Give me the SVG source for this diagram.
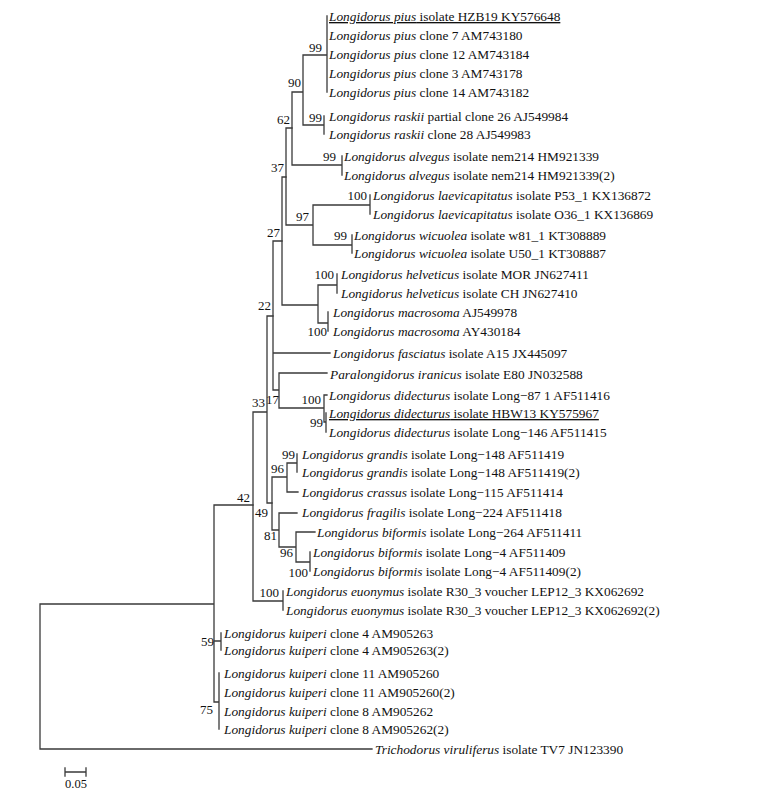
<svg xmlns="http://www.w3.org/2000/svg" width="763" height="792" viewBox="0 0 763 792">
<style>
.br{fill:none;stroke:#3a3a3a;stroke-width:1.3;stroke-linecap:square}
.lf{font-family:"Liberation Serif","Times New Roman",serif;font-size:13.35px;fill:#111}
.sp{font-style:italic}
.sl{font-family:"Liberation Serif","Times New Roman",serif;font-size:13px;fill:#111;text-anchor:end}
.ul{text-decoration:underline}
</style>
<rect width="763" height="792" fill="#fff"/>
<g id="connectors">
<path class="br" d="M40,604V749M40,749H372M40,604H214M214,505V702M214,505H253M214,641H221M221,633V650M214,702H219M219,673V729"/>
<path class="br" d="M253,412V601M253,601H283M283,591V610M253,412H267M267,316V503M267,316H273M267,503H272"/>
<path class="br" d="M273,241V390M273,241H282M273,353H330M273,390H279M279,373V408M279,373H327M279,408H324M324,395V422M324,395H327M324,422H326M326,413V432"/>
<path class="br" d="M282,177V305M282,177H286M282,305H318M318,285V323M318,285H337M337,274V293M318,323H328M328,312V331"/>
<path class="br" d="M286,128V225M286,128H292M286,225H313M313,205V245M313,205H370M370,195V214M313,245H352M352,235V253"/>
<path class="br" d="M292,92V165M292,92H303M292,165H342M342,156V175M303,55V125M303,55H327M327,16V92M303,125H324M324,116V134"/>
<path class="br" d="M272,477V530M272,477H287M287,463V492M287,463H297M297,454V472M287,492H298M272,530H279M279,513V547M279,513H297M279,547H296M296,532V562M296,532H315M296,562H310M310,552V571"/>
</g>
<g id="leaves" class="lf">
<g id="n1"><text x="329" y="21" class="ul"><tspan class="sp">Longidorus pius</tspan> isolate HZB19 KY576648</text></g>
<g id="n2"><text x="329" y="40"><tspan class="sp">Longidorus pius</tspan> clone 7 AM743180</text></g>
<g id="n3"><text x="329" y="59"><tspan class="sp">Longidorus pius</tspan> clone 12 AM743184</text></g>
<g id="n4"><text x="329" y="78"><tspan class="sp">Longidorus pius</tspan> clone 3 AM743178</text></g>
<g id="n5"><text x="329" y="97"><tspan class="sp">Longidorus pius</tspan> clone 14 AM743182</text></g>
<g id="n6"><text x="329" y="121"><tspan class="sp">Longidorus raskii</tspan> partial clone 26 AJ549984</text></g>
<g id="n7"><text x="329" y="139"><tspan class="sp">Longidorus raskii</tspan> clone 28 AJ549983</text></g>
<g id="n8"><text x="344" y="161"><tspan class="sp">Longidorus alvegus</tspan> isolate nem214 HM921339</text></g>
<g id="n9"><text x="344" y="180"><tspan class="sp">Longidorus alvegus</tspan> isolate nem214 HM921339(2)</text></g>
<g id="n10"><text x="373" y="200"><tspan class="sp">Longidorus laevicapitatus</tspan> isolate P53_1 KX136872</text></g>
<g id="n11"><text x="373" y="219"><tspan class="sp">Longidorus laevicapitatus</tspan> isolate O36_1 KX136869</text></g>
<g id="n12"><text x="354" y="240"><tspan class="sp">Longidorus wicuolea</tspan> isolate w81_1 KT308889</text></g>
<g id="n13"><text x="354" y="258"><tspan class="sp">Longidorus wicuolea</tspan> isolate U50_1 KT308887</text></g>
<g id="n14"><text x="341" y="279"><tspan class="sp">Longidorus helveticus</tspan> isolate MOR JN627411</text></g>
<g id="n15"><text x="341" y="298"><tspan class="sp">Longidorus helveticus</tspan> isolate CH JN627410</text></g>
<g id="n16"><text x="333" y="317"><tspan class="sp">Longidorus macrosoma</tspan> AJ549978</text></g>
<g id="n17"><text x="333" y="336"><tspan class="sp">Longidorus macrosoma</tspan> AY430184</text></g>
<g id="n18"><text x="333" y="358"><tspan class="sp">Longidorus fasciatus</tspan> isolate A15 JX445097</text></g>
<g id="n19"><text x="330" y="379"><tspan class="sp">Paralongidorus iranicus</tspan> isolate E80 JN032588</text></g>
<g id="n20"><text x="329" y="400"><tspan class="sp">Longidorus didecturus</tspan> isolate Long−87 1 AF511416</text></g>
<g id="n21"><text x="329" y="418" class="ul"><tspan class="sp">Longidorus didecturus</tspan> isolate HBW13 KY575967</text></g>
<g id="n22"><text x="329" y="437"><tspan class="sp">Longidorus didecturus</tspan> isolate Long−146 AF511415</text></g>
<g id="n23"><text x="302" y="459"><tspan class="sp">Longidorus grandis</tspan> isolate Long−148 AF511419</text></g>
<g id="n24"><text x="302" y="477"><tspan class="sp">Longidorus grandis</tspan> isolate Long−148 AF511419(2)</text></g>
<g id="n25"><text x="302" y="497"><tspan class="sp">Longidorus crassus</tspan> isolate Long−115 AF511414</text></g>
<g id="n26"><text x="302" y="517"><tspan class="sp">Longidorus fragilis</tspan> isolate Long−224 AF511418</text></g>
<g id="n27"><text x="317" y="537"><tspan class="sp">Longidorus biformis</tspan> isolate Long−264 AF511411</text></g>
<g id="n28"><text x="313" y="557"><tspan class="sp">Longidorus biformis</tspan> isolate Long−4 AF511409</text></g>
<g id="n29"><text x="313" y="576"><tspan class="sp">Longidorus biformis</tspan> isolate Long−4 AF511409(2)</text></g>
<g id="n30"><text x="286" y="596"><tspan class="sp">Longidorus euonymus</tspan> isolate R30_3 voucher LEP12_3 KX062692</text></g>
<g id="n31"><text x="286" y="615"><tspan class="sp">Longidorus euonymus</tspan> isolate R30_3 voucher LEP12_3 KX062692(2)</text></g>
<g id="n32"><text x="224" y="638"><tspan class="sp">Longidorus kuiperi</tspan> clone 4 AM905263</text></g>
<g id="n33"><text x="224" y="655"><tspan class="sp">Longidorus kuiperi</tspan> clone 4 AM905263(2)</text></g>
<g id="n34"><text x="224" y="678"><tspan class="sp">Longidorus kuiperi</tspan> clone 11 AM905260</text></g>
<g id="n35"><text x="224" y="697"><tspan class="sp">Longidorus kuiperi</tspan> clone 11 AM905260(2)</text></g>
<g id="n36"><text x="224" y="716"><tspan class="sp">Longidorus kuiperi</tspan> clone 8 AM905262</text></g>
<g id="n37"><text x="224" y="734"><tspan class="sp">Longidorus kuiperi</tspan> clone 8 AM905262(2)</text></g>
<g id="n38"><text x="375" y="754"><tspan class="sp">Trichodorus viruliferus</tspan> isolate TV7 JN123390</text></g>
</g>
<g id="support" class="sl">
<g id="s-pius"><text x="322" y="52">99</text></g>
<g id="s-90"><text x="301" y="87">90</text></g>
<g id="s-raskii"><text x="322" y="122">99</text></g>
<g id="s-62"><text x="290" y="124">62</text></g>
<g id="s-alvegus"><text x="336" y="161">99</text></g>
<g id="s-37"><text x="284" y="172">37</text></g>
<g id="s-laev"><text x="367" y="200">100</text></g>
<g id="s-97"><text x="309" y="221">97</text></g>
<g id="s-wic"><text x="347" y="240">99</text></g>
<g id="s-27"><text x="280" y="237">27</text></g>
<g id="s-helv"><text x="334" y="279">100</text></g>
<g id="s-macro"><text x="327" y="336">100</text></g>
<g id="s-22"><text x="271" y="310">22</text></g>
<g id="s-17"><text x="279" y="404">17</text></g>
<g id="s-33"><text x="265" y="407">33</text></g>
<g id="s-did100"><text x="321" y="404">100</text></g>
<g id="s-did99"><text x="323" y="427">99</text></g>
<g id="s-grandis"><text x="295" y="459">99</text></g>
<g id="s-96a"><text x="284" y="473">96</text></g>
<g id="s-42"><text x="250" y="502">42</text></g>
<g id="s-49"><text x="268" y="517">49</text></g>
<g id="s-81"><text x="277" y="540">81</text></g>
<g id="s-96b"><text x="293" y="557">96</text></g>
<g id="s-bif100"><text x="308" y="577">100</text></g>
<g id="s-euon"><text x="279" y="597">100</text></g>
<g id="s-59"><text x="214" y="646">59</text></g>
<g id="s-75"><text x="213" y="714">75</text></g>
</g>
<g id="scale">
<path class="br" d="M65,772H86M65,768V776M86,768V776"/>
<text x="65" y="788" class="lf" style="font-size:12.5px">0.05</text>
</g>
</svg>
